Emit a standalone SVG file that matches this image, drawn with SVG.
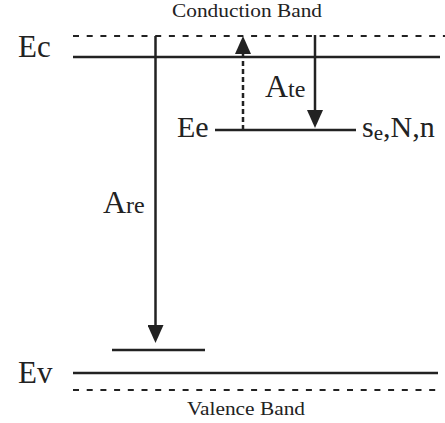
<svg xmlns="http://www.w3.org/2000/svg" width="445" height="423" viewBox="0 0 445 423">
<style>
.t{font-family:"Liberation Serif","Times New Roman",serif;fill:#222}
.s{stroke:#222;stroke-width:2.5;fill:none}
.d{stroke:#222;stroke-width:2;fill:none;stroke-dasharray:6 7.7}
.dv{stroke:#222;stroke-width:2.5;fill:none;stroke-dasharray:5 3}
</style>
<defs>
<marker id="ah" viewBox="0 0 18 16" refX="14" refY="8" markerWidth="18" markerHeight="16" markerUnits="userSpaceOnUse" orient="auto">
<path d="M0,0 L18,8 L0,16 Z" fill="#222"/>
</marker>
</defs>
<g id="conduction-band">
<line class="d" x1="73" y1="36" x2="445" y2="36"/>
<text class="t" x="247" y="17" font-size="19" text-anchor="middle" textLength="150" lengthAdjust="spacingAndGlyphs">Conduction Band</text>
</g>
<g id="ec">
<line class="s" x1="73" y1="57" x2="440" y2="57"/>
<text class="t" x="18" y="57" font-size="31">Ec</text>
</g>
<g id="ee">
<line class="s" x1="215" y1="130" x2="356" y2="130"/>
<text class="t" x="177" y="137" font-size="30">Ee</text>
<text class="t" x="362" y="137" font-size="30"><tspan>s</tspan><tspan font-size="21" dy="3">e</tspan><tspan dy="-3">,N,n</tspan></text>
</g>
<g id="trap-level">
<line class="s" x1="112" y1="350" x2="205" y2="350"/>
</g>
<g id="ev">
<line class="s" x1="73" y1="373" x2="438" y2="373"/>
<text class="t" x="18" y="383" font-size="31">Ev</text>
</g>
<g id="valence-band">
<line class="d" x1="73" y1="390" x2="438" y2="390"/>
<text class="t" x="246" y="415" font-size="19" text-anchor="middle" textLength="118" lengthAdjust="spacingAndGlyphs">Valence Band</text>
</g>
<g id="connectors">
<line class="s" x1="155.5" y1="36" x2="155.5" y2="339" marker-end="url(#ah)"/>
<line class="s" x1="315" y1="35" x2="315" y2="124" marker-end="url(#ah)"/>
<line class="dv" x1="243" y1="130" x2="243" y2="40" marker-end="url(#ah)"/>
<text class="t" x="103" y="213" font-size="32">A<tspan font-size="24">re</tspan></text>
<text class="t" x="265" y="97" font-size="32">A<tspan font-size="24">te</tspan></text>
</g>
</svg>
